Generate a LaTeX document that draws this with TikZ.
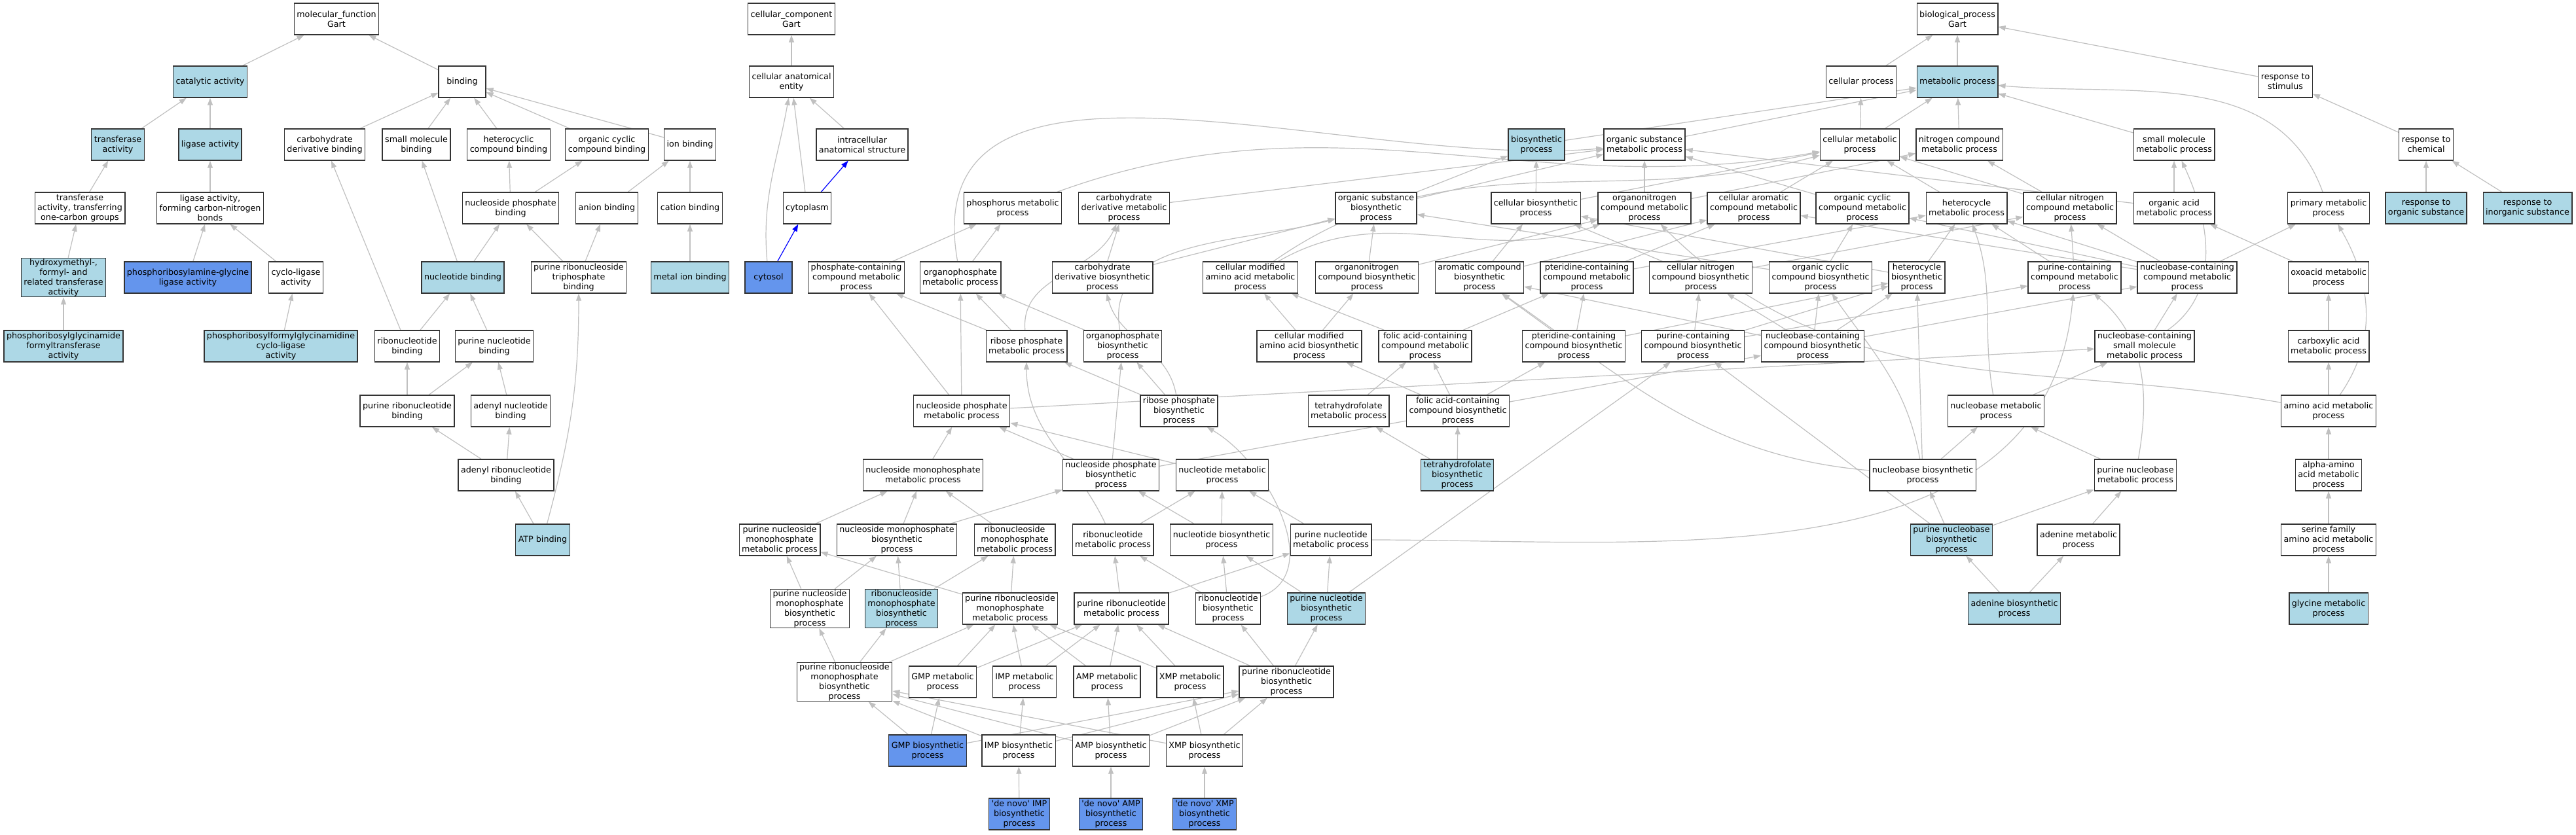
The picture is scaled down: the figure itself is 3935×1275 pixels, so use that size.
\documentclass[tikz,border=0pt]{standalone}
\usepackage{fontspec}
\newfontfamily\gofont{DejaVu Sans}[Ligatures=TeXOff]
\usetikzlibrary{arrows.meta}
\pgfdeclarelayer{bg}
\pgfsetlayers{bg,main}
\definecolor{lblue}{HTML}{ADD8E6}
\definecolor{cblue}{HTML}{6495ED}
\definecolor{edgegray}{HTML}{C0C0C0}
\begin{document}
\begin{tikzpicture}[x=0.25pt,y=0.25pt,
  term/.style={draw=black!80,line width=0.33pt,fill=white,align=center,
    font=\gofont\fontsize{3.175pt}{3.75pt}\selectfont,inner xsep=1pt,inner ysep=0.25pt,
    minimum height=12pt,minimum width=18pt},
  hit/.style={term,fill=lblue},
  seed/.style={term,fill=cblue},
  isa/.style={draw=edgegray,line width=0.3pt,-{Triangle[length=2.75pt,width=2pt]}},
  part/.style={isa,draw=blue}]
\useasboundingbox (0,0) rectangle (3935,-1275);
% molecular function
\node[term] (mf) at (514,-29) {molecular\_function\\Gart};
\node[hit] (catalytic) at (321,-125) {catalytic activity};
\node[term] (binding) at (706,-125) {binding};
\node[hit] (transferase) at (180,-221) {transferase\\activity};
\node[hit] (ligase) at (321,-221) {ligase activity};
\node[term] (carbbind) at (496,-221) {carbohydrate\\derivative binding};
\node[term] (smbind) at (636,-221) {small molecule\\binding};
\node[term] (hetbind) at (777,-221) {heterocyclic\\compound binding};
\node[term] (ocbind) at (927,-221) {organic cyclic\\compound binding};
\node[term] (ionbind) at (1054,-221) {ion binding};
\node[term] (transone) at (122,-318) {transferase\\activity, transferring\\one-carbon groups};
\node[term] (ligcn) at (321,-318) {ligase activity,\\forming carbon-nitrogen\\bonds};
\node[term] (npbind) at (780,-318) {nucleoside phosphate\\binding};
\node[term] (anionbind) at (927,-318) {anion binding};
\node[term] (cationbind) at (1054,-318) {cation binding};
\node[hit] (hydroxy) at (97,-424) {hydroxymethyl-,\\formyl- and\\related transferase\\activity};
\node[seed] (prgly) at (287,-424) {phosphoribosylamine-glycine\\ligase activity};
\node[term] (cyclolig) at (452,-424) {cyclo-ligase\\activity};
\node[hit] (ntbind) at (707,-424) {nucleotide binding};
\node[term] (prtbind) at (884,-424) {purine ribonucleoside\\triphosphate\\binding};
\node[hit] (metalbind) at (1054,-424) {metal ion binding};
\node[hit] (pgft) at (97,-529) {phosphoribosylglycinamide\\formyltransferase\\activity};
\node[hit] (pfgcl) at (429,-529) {phosphoribosylformylglycinamidine\\cyclo-ligase\\activity};
\node[term] (rnbind) at (622,-529) {ribonucleotide\\binding};
\node[term] (pnbind) at (755,-529) {purine nucleotide\\binding};
\node[term] (prnbind) at (622,-628) {purine ribonucleotide\\binding};
\node[term] (adnbind) at (780,-628) {adenyl nucleotide\\binding};
\node[term] (adrbind) at (773,-726) {adenyl ribonucleotide\\binding};
\node[hit] (atpbind) at (829,-825) {ATP binding};
% cellular component
\node[term] (cc) at (1209,-29) {cellular\_component\\Gart};
\node[term] (cae) at (1209,-125) {cellular anatomical\\entity};
\node[term] (ias) at (1317,-221) {intracellular\\anatomical structure};
\node[term] (cytoplasm) at (1233,-318) {cytoplasm};
\node[seed] (cytosol) at (1174,-424) {cytosol};
% biological process
\node[term] (bp) at (2990,-29) {biological\_process\\Gart};
\node[term] (cellproc) at (2843,-125) {cellular process};
\node[hit] (metproc) at (2990,-125) {metabolic process};
\node[term] (resstim) at (3491,-125) {response to\\stimulus};
\node[hit] (biosyn) at (2347,-221) {biosynthetic\\process};
\node[term] (osm) at (2512,-221) {organic substance\\metabolic process};
\node[term] (cmp) at (2841,-221) {cellular metabolic\\process};
\node[term] (ncm) at (2993,-221) {nitrogen compound\\metabolic process};
\node[term] (smm) at (3321,-221) {small molecule\\metabolic process};
\node[term] (reschem) at (3706,-221) {response to\\chemical};
\node[term] (phosm) at (1547,-318) {phosphorus metabolic\\process};
\node[term] (cdm) at (1717,-318) {carbohydrate\\derivative metabolic\\process};
\node[term] (osb) at (2102,-318) {organic substance\\biosynthetic\\process};
\node[term] (cbp) at (2346,-318) {cellular biosynthetic\\process};
\node[term] (onm) at (2512,-318) {organonitrogen\\compound metabolic\\process};
\node[term] (cam) at (2679,-318) {cellular aromatic\\compound metabolic\\process};
\node[term] (ocm) at (2845,-318) {organic cyclic\\compound metabolic\\process};
\node[term] (hm) at (3004,-318) {heterocycle\\metabolic process};
\node[term] (cncm) at (3162,-318) {cellular nitrogen\\compound metabolic\\process};
\node[term] (oam) at (3321,-318) {organic acid\\metabolic process};
\node[term] (pmp) at (3557,-318) {primary metabolic\\process};
\node[hit] (resorg) at (3706,-318) {response to\\organic substance};
\node[hit] (resinorg) at (3861,-318) {response to\\inorganic substance};
\node[term] (phcm) at (1308,-424) {phosphate-containing\\compound metabolic\\process};
\node[term] (opm) at (1467,-424) {organophosphate\\metabolic process};
\node[term] (cdb) at (1684,-424) {carbohydrate\\derivative biosynthetic\\process};
\node[term] (cmaam) at (1910,-424) {cellular modified\\amino acid metabolic\\process};
\node[term] (onb) at (2088,-424) {organonitrogen\\compound biosynthetic\\process};
\node[term] (acb) at (2260,-424) {aromatic compound\\biosynthetic\\process};
\node[term] (ptm) at (2424,-424) {pteridine-containing\\compound metabolic\\process};
\node[term] (cncb) at (2598,-424) {cellular nitrogen\\compound biosynthetic\\process};
\node[term] (ocb) at (2781,-424) {organic cyclic\\compound biosynthetic\\process};
\node[term] (hb) at (2928,-424) {heterocycle\\biosynthetic\\process};
\node[term] (pcm) at (3169,-424) {purine-containing\\compound metabolic\\process};
\node[term] (nccm) at (3341,-424) {nucleobase-containing\\compound metabolic\\process};
\node[term] (oxo) at (3557,-424) {oxoacid metabolic\\process};
\node[term] (rpm) at (1568,-529) {ribose phosphate\\metabolic process};
\node[term] (opb) at (1715,-529) {organophosphate\\biosynthetic\\process};
\node[term] (cmaab) at (2000,-529) {cellular modified\\amino acid biosynthetic\\process};
\node[term] (facm) at (2177,-529) {folic acid-containing\\compound metabolic\\process};
\node[term] (ptb) at (2404,-529) {pteridine-containing\\compound biosynthetic\\process};
\node[term] (pcb) at (2586,-529) {purine-containing\\compound biosynthetic\\process};
\node[term] (nccb) at (2769,-529) {nucleobase-containing\\compound biosynthetic\\process};
\node[term] (ncsm) at (3276,-529) {nucleobase-containing\\small molecule\\metabolic process};
\node[term] (carbox) at (3557,-529) {carboxylic acid\\metabolic process};
\node[term] (npm) at (1469,-628) {nucleoside phosphate\\metabolic process};
\node[term] (rpb) at (1801,-628) {ribose phosphate\\biosynthetic\\process};
\node[term] (thfm) at (2060,-628) {tetrahydrofolate\\metabolic process};
\node[term] (facb) at (2227,-628) {folic acid-containing\\compound biosynthetic\\process};
\node[term] (nbm) at (3049,-628) {nucleobase metabolic\\process};
\node[term] (aam) at (3557,-628) {amino acid metabolic\\process};
\node[term] (nmm) at (1410,-726) {nucleoside monophosphate\\metabolic process};
\node[term] (npb) at (1697,-726) {nucleoside phosphate\\biosynthetic\\process};
\node[term] (ntm) at (1867,-726) {nucleotide metabolic\\process};
\node[hit] (thfb) at (2226,-726) {tetrahydrofolate\\biosynthetic\\process};
\node[term] (nbb) at (2937,-726) {nucleobase biosynthetic\\process};
\node[term] (pnbm) at (3262,-726) {purine nucleobase\\metabolic process};
\node[term] (alpha) at (3557,-726) {alpha-amino\\acid metabolic\\process};
\node[term] (pnmm) at (1191,-825) {purine nucleoside\\monophosphate\\metabolic process};
\node[term] (nmb) at (1370,-825) {nucleoside monophosphate\\biosynthetic\\process};
\node[term] (rmm) at (1550,-825) {ribonucleoside\\monophosphate\\metabolic process};
\node[term] (rnm) at (1700,-825) {ribonucleotide\\metabolic process};
\node[term] (ntb) at (1866,-825) {nucleotide biosynthetic\\process};
\node[term] (pntm) at (2033,-825) {purine nucleotide\\metabolic process};
\node[hit] (pnbb) at (2981,-825) {purine nucleobase\\biosynthetic\\process};
\node[term] (adem) at (3175,-825) {adenine metabolic\\process};
\node[term] (serine) at (3557,-825) {serine family\\amino acid metabolic\\process};
\node[term] (pnmb) at (1237,-930) {purine nucleoside\\monophosphate\\biosynthetic\\process};
\node[hit] (rmb) at (1377,-930) {ribonucleoside\\monophosphate\\biosynthetic\\process};
\node[term] (prmm) at (1543,-930) {purine ribonucleoside\\monophosphate\\metabolic process};
\node[term] (prm) at (1713,-930) {purine ribonucleotide\\metabolic process};
\node[term] (rnb) at (1876,-930) {ribonucleotide\\biosynthetic\\process};
\node[hit] (pntb) at (2026,-930) {purine nucleotide\\biosynthetic\\process};
\node[hit] (adeb) at (3077,-930) {adenine biosynthetic\\process};
\node[hit] (glym) at (3557,-930) {glycine metabolic\\process};
\node[term] (prmb) at (1290,-1042) {purine ribonucleoside\\monophosphate\\biosynthetic\\process};
\node[term] (gmpm) at (1440,-1042) {GMP metabolic\\process};
\node[term] (impm) at (1565,-1042) {IMP metabolic\\process};
\node[term] (ampm) at (1691,-1042) {AMP metabolic\\process};
\node[term] (xmpm) at (1818,-1042) {XMP metabolic\\process};
\node[term] (prb) at (1965,-1042) {purine ribonucleotide\\biosynthetic\\process};
\node[seed] (gmpb) at (1417,-1147) {GMP biosynthetic\\process};
\node[term] (impb) at (1556,-1147) {IMP biosynthetic\\process};
\node[term] (ampb) at (1697,-1147) {AMP biosynthetic\\process};
\node[term] (xmpb) at (1840,-1147) {XMP biosynthetic\\process};
\node[seed] (dnimp) at (1557,-1244) {'de novo' IMP\\biosynthetic\\process};
\node[seed] (dnamp) at (1697,-1244) {'de novo' AMP\\biosynthetic\\process};
\node[seed] (dnxmp) at (1840,-1244) {'de novo' XMP\\biosynthetic\\process};
\begin{pgfonlayer}{bg}
\fill[white] (0,0) rectangle (3935,-1275);
\foreach \c/\p in {catalytic/mf,binding/mf,transferase/catalytic,ligase/catalytic,
  carbbind/binding,smbind/binding,hetbind/binding,ocbind/binding,ionbind/binding,
  transone/transferase,ligcn/ligase,npbind/hetbind,npbind/ocbind,anionbind/ionbind,
  cationbind/ionbind,hydroxy/transone,prgly/ligcn,cyclolig/ligcn,ntbind/smbind,
  ntbind/npbind,prtbind/npbind,prtbind/anionbind,metalbind/cationbind,pgft/hydroxy,
  pfgcl/cyclolig,rnbind/ntbind,rnbind/carbbind,pnbind/ntbind,prnbind/rnbind,
  prnbind/pnbind,adnbind/pnbind,adrbind/prnbind,adrbind/adnbind,atpbind/adrbind,
  cae/cc,ias/cae,cytoplasm/cae}
  \draw[isa] (\c) -- (\p);
\foreach \c/\p in {cellproc/bp,metproc/bp,resstim/bp,biosyn/metproc,osm/metproc,
  cmp/cellproc,cmp/metproc,ncm/metproc,smm/metproc,reschem/resstim,cdm/osm,
  osb/biosyn,osb/osm,cbp/biosyn,cbp/cmp,onm/osm,onm/ncm,cam/cmp,ocm/osm,hm/cmp,
  cncm/cmp,cncm/ncm,oam/smm,oam/osm,resorg/reschem,resinorg/reschem,phcm/phosm,
  opm/phosm,cdb/cdm,cdb/osb,onb/osb,onb/onm,acb/cbp,acb/cam,ptm/cam,ptm/hm,
  cncb/cncm,cncb/cbp,ocb/ocm,ocb/osb,hb/hm,hb/cbp,pcm/hm,pcm/cncm,nccm/cam,
  nccm/ocm,nccm/hm,nccm/cncm,nccm/pmp,oxo/oam,rpm/phcm,rpm/opm,opb/opm,
  cmaab/cmaam,cmaab/onb,facm/cmaam,facm/ptm,ptb/ptm,ptb/acb,ptb/hb,pcb/pcm,
  pcb/cncb,pcb/hb,nccb/nccm,nccb/ocb,nccb/hb,nccb/cncb,nccb/acb,ncsm/nccm,
  carbox/oxo,npm/phcm,npm/opm,npm/ncsm,rpb/rpm,rpb/opb,thfm/facm,facb/facm,
  facb/cmaab,facb/ptb,nbm/ncsm,aam/carbox,nmm/npm,npb/npm,npb/opb,npb/nccb,
  ntm/npm,thfb/thfm,thfb/facb,nbb/nbm,nbb/hb,pnbm/nbm,alpha/aam,pnmm/nmm,
  nmb/nmm,nmb/npb,rmm/nmm,rnm/ntm,ntb/npb,ntb/ntm,pntm/ntm,pnbb/nbb,pnbb/pnbm,
  pnbb/pcb,adem/pnbm,serine/alpha,pnmb/pnmm,pnmb/nmb,rmb/nmb,rmb/rmm,prmm/rmm,
  prmm/pnmm,prm/rnm,prm/pntm,rnb/rnm,rnb/ntb,pntb/ntb,pntb/pntm,pntb/pcb,
  adeb/pnbb,adeb/adem,glym/serine,prmb/pnmb,prmb/rmb,prmb/prmm,
  gmpm/prmm,impm/prmm,ampm/prmm,xmpm/prmm,gmpm/prm,impm/prm,ampm/prm,xmpm/prm,
  prb/prm,prb/rnb,prb/pntb,gmpb/prmb,impb/prmb,ampb/prmb,xmpb/prmb,
  gmpb/gmpm,impb/impm,ampb/ampm,xmpb/xmpm,gmpb/prb,impb/prb,ampb/prb,xmpb/prb,
  dnimp/impb,dnamp/ampb,dnxmp/xmpb}
  \draw[isa] (\c) -- (\p);
\draw[isa] (cytosol) to[out=95,in=-100] (cae);
\draw[isa] (atpbind) to[out=75,in=-90] (prtbind);
\draw[isa] (phosm) to[out=20,in=190] (cmp);
\draw[isa] (opm) to[out=100,in=185] (osm);
\draw[isa] (cmaam) to[out=35,in=195] (cmp);
\draw[isa] (cmaam) to[out=30,in=200] (onm);
\draw[isa] (rpm) to[out=95,in=-115] (cdm);
\draw[isa] (opb) to[out=100,in=195] (osb);
\draw[isa] (rpb) to[out=100,in=-75] (cdb);
\draw[isa] (rnm) to[out=115,in=-90] (rpm);
\draw[isa] (rnb) to[out=20,in=-30] (rpb);
\draw[isa] (pntm) to[out=0,in=-95] (pcm);
\draw[isa] (ncsm) to[out=35,in=-65] (smm);
\draw[isa] (aam) to[out=55,in=-60] (pmp);
\draw[isa] (aam) to[out=170,in=-45] (onm);
\draw[isa] (pmp) to[out=110,in=-5] (metproc);
\draw[isa] (pnbm) to[out=80,in=-40] (pcm);
\draw[isa] (nbm) to[out=100,in=-70] (hm);
\draw[isa] (nbb) to[out=100,in=-55] (ocb);
\draw[isa] (nbb) to[out=175,in=-35] (acb);
\draw[part] (cytoplasm) -- (ias);
\draw[part] (cytosol) -- (cytoplasm);
\end{pgfonlayer}
\end{tikzpicture}
\end{document}
